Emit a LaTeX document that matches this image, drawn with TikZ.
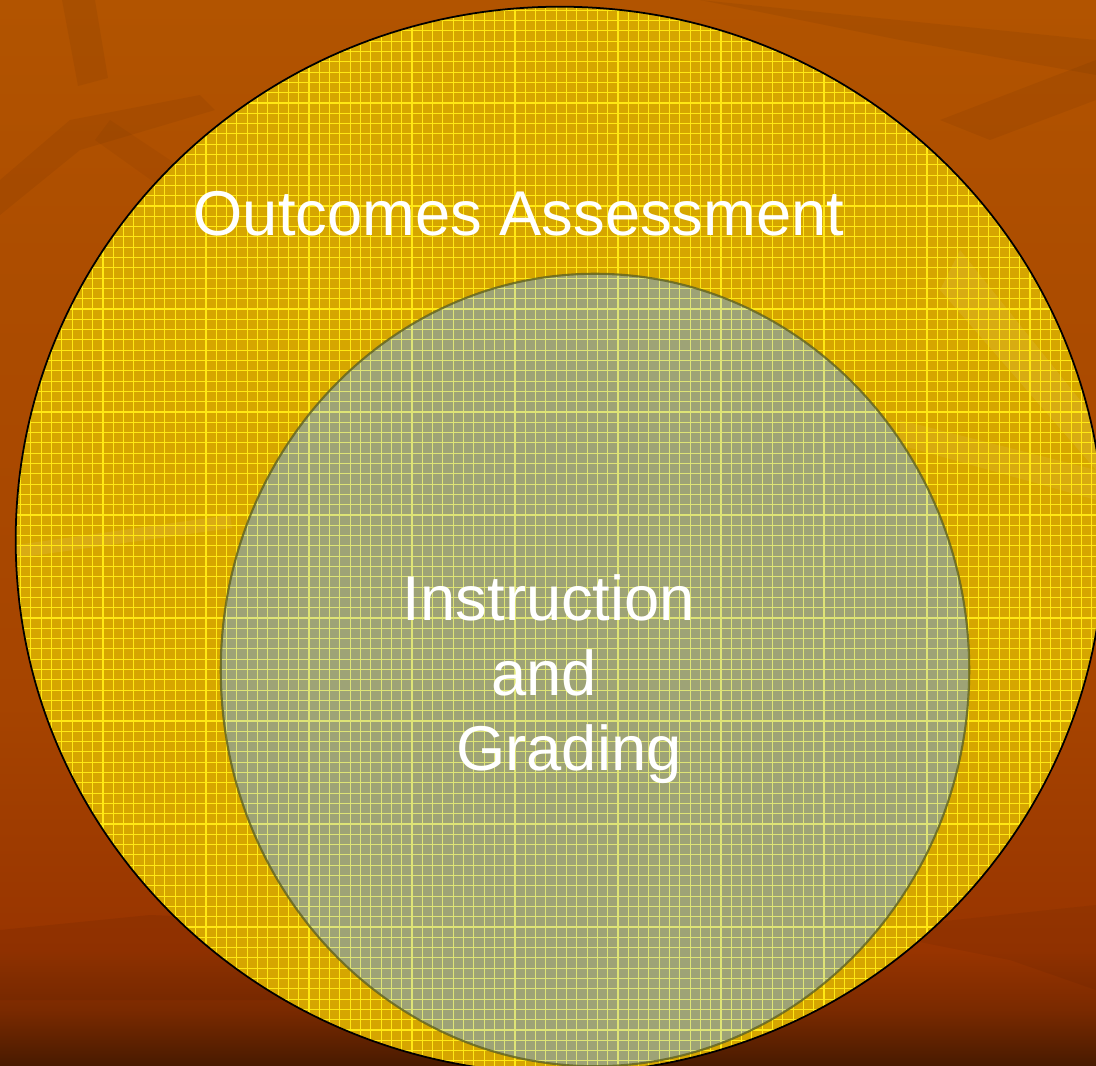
\documentclass[tikz,border=0pt]{standalone}
\usepackage{fontspec}
\setmainfont{Liberation Sans}

\definecolor{bgtop}{RGB}{178,84,0}
\definecolor{bgmid}{RGB}{166,68,0}
\definecolor{bglow}{RGB}{152,52,0}
\definecolor{bgdark}{RGB}{72,26,0}
\definecolor{outerfill}{RGB}{214,166,0}
\definecolor{outergrid}{RGB}{255,232,20}
\definecolor{innerfill}{RGB}{158,163,118}
\definecolor{innergrid}{RGB}{222,228,118}
\definecolor{inneredge}{RGB}{96,98,30}

% colours run from the bottom (25bp) to the top (75bp) of the page
\pgfdeclareverticalshading{slidebg}{100bp}{color(0bp)=(bgdark); color(25bp)=(bgdark);
  color(27.6bp)=(bglow!80!black); color(30.4bp)=(bglow); color(42bp)=(bgmid);
  color(61bp)=(bgmid!50!bgtop); color(75bp)=(bgtop); color(100bp)=(bgtop)}

\begin{document}
\begin{tikzpicture}[x=0.01cm,y=-0.01cm,
    label text/.style={text=white,font=\fontsize{18}{21}\selectfont,anchor=base,inner sep=0pt}]
\useasboundingbox (0,0) rectangle (1096,1066);
\clip (0,0) rectangle (1096,1066);
% background
\shade[shading=slidebg] (0,0) rectangle (1096,1066);
\fill[black,opacity=0.05] (62,0) -- (95,0) -- (108,78) -- (78,86) -- cycle;
\fill[black,opacity=0.05] (0,180) -- (70,120) -- (200,95) -- (215,110) -- (80,150) -- (0,215) -- cycle;
\fill[black,opacity=0.04] (110,120) -- (230,200) -- (250,230) -- (200,215) -- (95,140) -- cycle;
\fill[black,opacity=0.05] (700,0) -- (1096,40) -- (1096,75) -- (900,40) -- cycle;
\fill[black,opacity=0.05] (940,120) -- (1096,60) -- (1096,100) -- (990,140) -- cycle;
\fill[black,opacity=0.05] (860,930) -- (1096,905) -- (1096,990) -- (1010,960) -- cycle;
\fill[black,opacity=0.06] (0,930) -- (150,915) -- (400,925) -- (300,1000) -- (0,1000) -- cycle;
% outer circle
\fill[outerfill] (560,540) ellipse [x radius=5.44cm, y radius=5.33cm];
\begin{scope}
\clip (560,540) ellipse [x radius=5.44cm, y radius=5.33cm];
\fill[white,opacity=0.08] (16,545) -- (230,515) -- (232,528) -- (16,558) -- cycle;
\fill[white,opacity=0.07] (960,250) -- (1096,420) -- (1096,470) -- (940,290) -- cycle;
\fill[white,opacity=0.06] (900,420) -- (1096,470) -- (1096,500) -- (900,445) -- cycle;
\foreach \g in {0,10.3,...,1100}
  \draw[outergrid,line width=0.33pt] (\g,0) -- (\g,1066);
\foreach \g in {0,10.3,...,1070}
  \draw[outergrid,line width=0.33pt] (0,\g) -- (1096,\g);
\end{scope}
% inner circle
\fill[innerfill] (595,670) ellipse [x radius=3.74cm, y radius=3.96cm];
\begin{scope}
\clip (595,670) ellipse [x radius=3.74cm, y radius=3.96cm];
\foreach \g in {0,10.3,...,1100}
  \draw[innergrid,line width=0.33pt] (\g,0) -- (\g,1066);
\foreach \g in {0,10.3,...,1070}
  \draw[innergrid,line width=0.33pt] (0,\g) -- (1096,\g);
\end{scope}
\draw[inneredge,opacity=0.8,line width=0.6pt] (595,670) ellipse [x radius=3.74cm, y radius=3.96cm];
\draw[black,line width=0.5pt] (560,540) ellipse [x radius=5.44cm, y radius=5.33cm];
% labels
\node[label text] (outcomes) at (519,235) {Outcomes Assessment};
\node[label text] (instruction) at (549,620) {Instruction};
\node[label text] (and) at (544,695) {and};
\node[label text] (grading) at (569,770) {Grading};
\end{tikzpicture}
\end{document}
